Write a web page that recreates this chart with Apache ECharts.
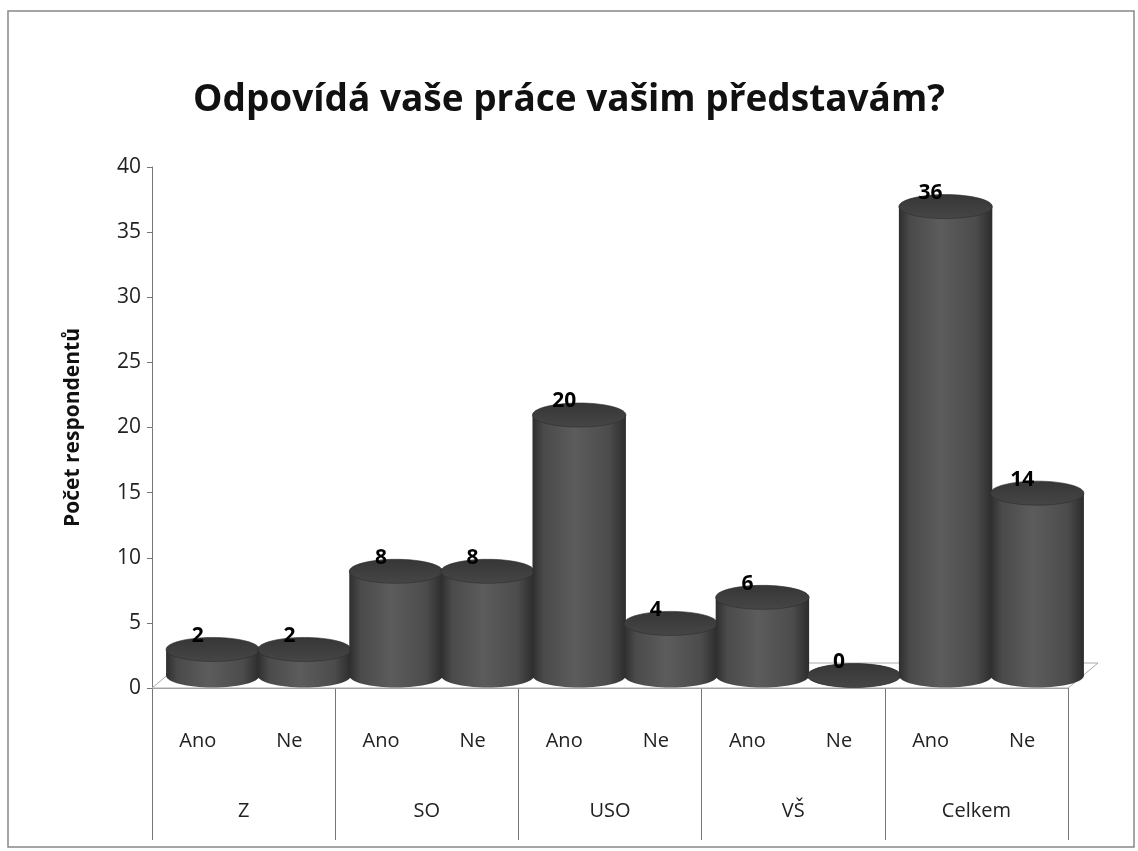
<!DOCTYPE html>
<html>
<head>
<meta charset="utf-8">
<script src="https://cdn.jsdelivr.net/npm/echarts@6/dist/echarts.min.js"></script>
<style>
  html, body { margin: 0; padding: 0; background: #fff; }
  #main { width: 1138px; height: 851px; }
</style>
</head>
<body>
<div id="main"></div>
<script>
var myChart = echarts.init(document.getElementById('main'));

// data
var answers = ['Ano', 'Ne', 'Ano', 'Ne', 'Ano', 'Ne', 'Ano', 'Ne', 'Ano', 'Ne'];
var groups = ['Z', 'SO', 'USO', 'VŠ', 'Celkem'];
var counts = [2, 2, 8, 8, 20, 4, 6, 0, 36, 14];
var yTicks = [0, 5, 10, 15, 20, 25, 30, 35, 40];

var font = '"Open Sans", "Noto Sans", sans-serif';
var depthX = 30, depthY = 25;

var bodyFill = new echarts.graphic.LinearGradient(0, 0, 1, 0, [
    { offset: 0, color: '#2e2e2e' },
    { offset: 0.12, color: '#4a4a4a' },
    { offset: 0.45, color: '#5c5c5c' },
    { offset: 0.82, color: '#4c4c4c' },
    { offset: 1, color: '#2c2c2c' }
]);
var topFill = new echarts.graphic.LinearGradient(0, 0, 0, 1, [
    { offset: 0, color: '#363636' },
    { offset: 1, color: '#464646' }
]);

function renderCylinder(params, api) {
    var idx = api.value(0);
    var val = api.value(1);
    var base = api.coord([idx, 0]);
    var top = api.coord([idx, val]);
    var band = api.size([1, 0])[0];
    var w = band * 1.02;
    var ry = 12;
    var cx = base[0] + depthX / 2;
    var by = base[1] - depthY / 2;
    var ty = top[1] - depthY / 2;
    var x0 = cx - w / 2;
    return {
        type: 'group',
        children: [
            { type: 'ellipse', shape: { cx: cx, cy: by, rx: w / 2, ry: ry }, style: { fill: bodyFill } },
            { type: 'rect', shape: { x: x0, y: ty, width: w, height: by - ty }, style: { fill: bodyFill } },
            { type: 'ellipse', shape: { cx: cx, cy: ty, rx: w / 2, ry: ry }, style: { fill: topFill, stroke: '#2e2e2e', lineWidth: 0.6 } },
            { type: 'text', x: base[0], y: top[1] - 26, style: {
                text: String(val), fill: '#000', font: 'bold 21px ' + font,
                align: 'center', verticalAlign: 'middle' } }
        ]
    };
}

function renderFloor(params, api) {
    var band = api.size([1, 0])[0];
    var a = api.coord([0, 0]);
    var b = api.coord([counts.length - 1, 0]);
    var l = a[0] - band / 2, r = b[0] + band / 2, y = a[1];
    return {
        type: 'polygon',
        shape: { points: [[l, y], [r, y], [r + depthX, y - depthY], [l + depthX, y - depthY]] },
        style: { fill: '#fff', stroke: '#aaa', lineWidth: 1 }
    };
}

option = {
    backgroundColor: '#fff',
    title: {
        text: 'Odpovídá vaše práce vašim představám?',
        left: 'center',
        top: 77,
        textStyle: { fontFamily: font, fontSize: 37, fontWeight: 'bold', color: '#111' }
    },
    graphic: [{
        type: 'rect',
        shape: { x: 8, y: 11, width: 1126, height: 836 },
        style: { fill: 'none', stroke: '#888', lineWidth: 1.5 },
        silent: true
    }],
    grid: { left: 152, right: 70, top: 167, bottom: 163 },
    xAxis: [{
        type: 'category',
        data: answers,
        position: 'bottom',
        axisLine: { show: true, lineStyle: { color: '#999', width: 1 } },
        axisTick: { show: false },
        axisLabel: { margin: 43, fontFamily: font, fontSize: 20, color: '#222', interval: 0 }
    }, {
        type: 'category',
        data: groups,
        position: 'bottom',
        axisLine: { show: false },
        axisTick: { show: true, length: 152, interval: 0, lineStyle: { color: '#777', width: 1 } },
        axisLabel: { margin: 113, fontFamily: font, fontSize: 20, color: '#222', interval: 0 }
    }],
    yAxis: {
        type: 'value',
        min: yTicks[0],
        max: yTicks[yTicks.length - 1],
        interval: 5,
        name: 'Počet respondentů',
        nameLocation: 'middle',
        nameGap: 68,
        nameTextStyle: { fontFamily: font, fontSize: 21, fontWeight: 'bold', color: '#111' },
        axisLine: { show: true, lineStyle: { color: '#777', width: 1 } },
        axisTick: { show: true, length: 5, lineStyle: { color: '#777' } },
        axisLabel: { margin: 11, fontFamily: font, fontSize: 21, color: '#222' },
        splitLine: { show: false }
    },
    series: [{
        type: 'custom',
        name: 'floor',
        renderItem: renderFloor,
        data: [[0, 0]],
        silent: true,
        z: 1
    }, {
        type: 'custom',
        name: 'Počet',
        renderItem: renderCylinder,
        data: counts.map(function (v, i) { return [i, v]; }),
        z: 2
    }]
};

myChart.setOption(option);
</script>
</body>
</html>
